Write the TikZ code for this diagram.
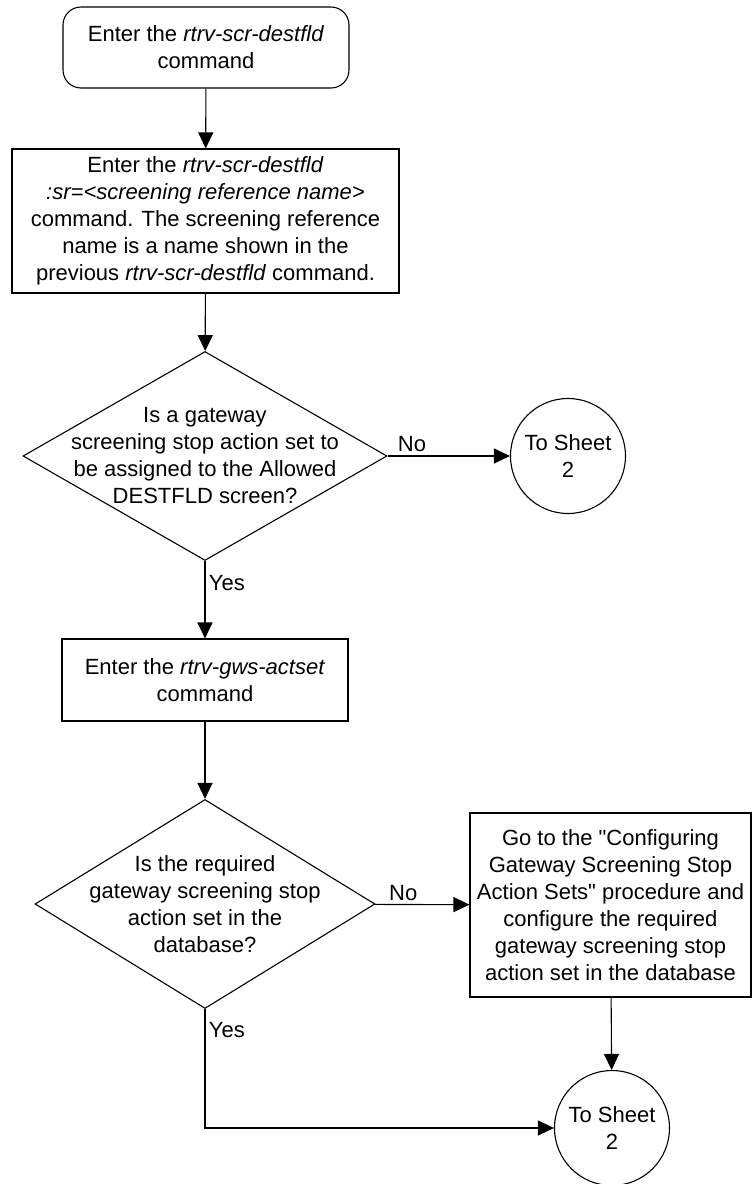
\documentclass[tikz,border=0pt]{standalone}
\usepackage{fontspec}
\setmainfont{Liberation Sans}
\usepackage{tikz}
\usetikzlibrary{arrows.meta}
\usetikzlibrary{
    shapes.geometric
}

\begin{document}
\begin{tikzpicture}[x=1pt, y=-1pt, line width=1.1pt,
    >={Triangle[length=16pt,width=15pt]},
    every node/.style={font=\fontsize{22pt}{27pt}\selectfont},
    startbox/.style={draw, rounded corners=18pt, align=center, inner sep=0pt},
    cmdbox/.style={draw, rectangle, align=center, inner sep=0pt},
    decision/.style={draw, diamond, inner sep=0pt},
    sheetnode/.style={draw, circle, minimum size=115pt, inner sep=0pt, align=center}]
    % Cadre
    \useasboundingbox (0,0) rectangle (753,1184);

    % Commandes
    \node[startbox, minimum width=286pt, minimum height=81pt] (start) at (206,47.5)
        {Enter the \textit{rtrv-scr-destfld}\\command};
    \node[cmdbox, minimum width=387pt, minimum height=144pt] (cmdsr) at (205.5,221)
        {Enter the \textit{rtrv-scr-destfld}\\\textit{:sr=<screening reference name>}\\command. The screening reference\\name is a name shown in the\\previous \textit{rtrv-scr-destfld} command.};

    % Premiere question
    \node[decision, minimum width=364pt, minimum height=209pt] (qset) at (205,456) {};
    \node[align=center] (qsettxt) at (qset)
        {Is a gateway\\screening stop action set to\\be assigned to the Allowed\\DESTFLD screen?};
    \node[sheetnode] (sheeta) at (568,456) {To Sheet\\2};

    \node[cmdbox, minimum width=286pt, minimum height=82pt] (cmdgws) at (205,680)
        {Enter the \textit{rtrv-gws-actset}\\command};

    % Deuxieme question
    \node[decision, minimum width=340pt, minimum height=209pt] (qdb) at (205,904) {};
    \node[align=center] (qdbtxt) at (qdb)
        {Is the required\\gateway screening stop\\action set in the\\database?};
    \node[cmdbox, minimum width=281pt, minimum height=184pt] (cfg) at (610.5,905)
        {Go to the \textquotedbl{}Configuring\\Gateway Screening Stop\\Action Sets\textquotedbl{} procedure and\\configure the required\\gateway screening stop\\action set in the database};
    \node[sheetnode] (sheetb) at (612,1128) {To Sheet\\2};

    % Fleches
    \draw[->] (start) -- (cmdsr);
    \draw[->] (cmdsr) -- (qset);
    \draw[->] (qset) -- node[above, pos=0.2] (noa) {No} (sheeta);
    \draw[->] (qset) -- node[right, pos=0.28] (yesa) {Yes} (cmdgws);
    \draw[->] (cmdgws) -- (qdb);
    \draw[->] (qdb) -- node[above, pos=0.3] (nob) {No} (cfg);
    \draw[->] (cfg) -- (sheetb);
    \draw[->] (qdb.south) |- node[right, pos=0.09] (yesb) {Yes} (sheetb);
\end{tikzpicture}
\end{document}
